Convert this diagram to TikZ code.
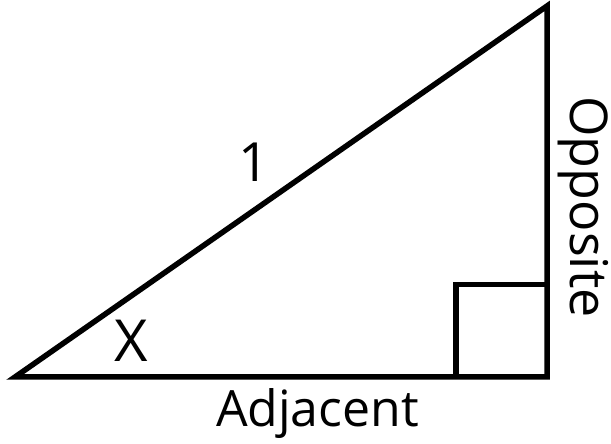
\documentclass[tikz,border=0pt]{standalone}
\usepackage{fontspec}
\setmainfont{Open Sans}
\begin{document}
\begin{tikzpicture}[x=1pt,y=1pt,
  edge/.style={line width=5.5pt, line join=miter, line cap=rect},
  lbl/.style={inner sep=0pt}]
\useasboundingbox (0,0) rectangle (611,444);
\coordinate (A) at (15,67);
\coordinate (B) at (547,67);
\coordinate (C) at (547,438);
\coordinate (S1) at (456,67);
\coordinate (S2) at (456,159.5);
\coordinate (S3) at (547,159.5);
\draw[edge] (A) -- (B) -- (C) -- cycle;
\draw[edge, line cap=butt] (S1) -- (S2) -- (S3);
\node[lbl, anchor=base, font=\fontsize{50}{56}\selectfont] (adj) at (317.5,17) {Adjacent};
\node[lbl, anchor=base, rotate=-90, font=\fontsize{52}{58}\selectfont] (opp) at (570,237) {Opposite};
\node[lbl, anchor=base, font=\fontsize{54}{60}\selectfont] (one) at (253.5,262) {1};
\node[lbl, anchor=base, font=\fontsize{58}{64}\selectfont] (x) at (131,82) {X};
\end{tikzpicture}
\end{document}
